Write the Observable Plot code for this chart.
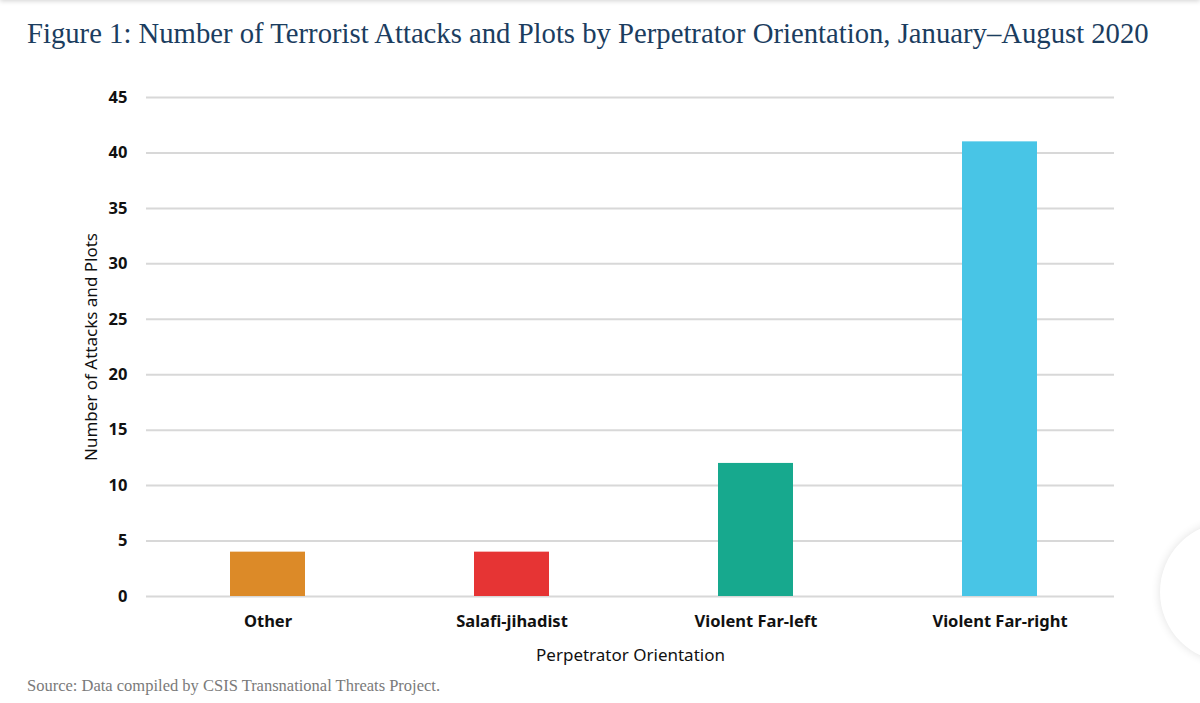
<!DOCTYPE html>
<html>
<head>
<meta charset="utf-8">
<script src="https://cdn.jsdelivr.net/npm/d3@7"></script>
<script src="https://cdn.jsdelivr.net/npm/@observablehq/plot@0.6"></script>
<style>
  html, body { margin: 0; padding: 0; background: #fff; width: 1200px; height: 703px; overflow: hidden; position: relative; }
  #topbar { position: absolute; left: 0; top: -10px; width: 1200px; height: 10px; box-shadow: 0 1px 5px rgba(0,0,0,0.18); }
  #title { position: absolute; left: 27px; top: 17px; font-family: "Liberation Serif", serif; font-size: 28.7px; color: #1b3d60; white-space: nowrap; }
  #chart { position: absolute; left: 0; top: 70px; }
  #source { position: absolute; left: 27px; top: 676px; font-family: "Liberation Serif", serif; font-size: 16.5px; color: #7a7a7a; white-space: nowrap; }
  #bubble { position: absolute; left: 1160px; top: 522px; width: 140px; height: 140px; border-radius: 50%; background: #fff; box-shadow: 0 0 10px rgba(0,0,0,0.12); }
  #chart g[aria-label$="axis label"] { font-weight: normal; font-size: 17px; }
</style>
</head>
<body>
<div id="topbar"></div>
<div id="title">Figure 1: Number of Terrorist Attacks and Plots by Perpetrator Orientation, January–August 2020</div>
<div id="chart"></div>
<div id="source">Source: Data compiled by CSIS Transnational Threats Project.</div>
<div id="bubble"></div>
<script>
const categories = ["Other", "Salafi-jihadist", "Violent Far-left", "Violent Far-right"];
const counts = [4, 4, 12, 41];
const colors = ["#dc8a28", "#e63434", "#17a98e", "#48c5e6"];
const yTicks = [0, 5, 10, 15, 20, 25, 30, 35, 40, 45];

const data = categories.map((c, i) => ({category: c, value: counts[i]}));

const plot = Plot.plot({
  width: 1200,
  height: 600,
  marginTop: 27,
  marginBottom: 74,
  marginLeft: 146,
  marginRight: 86,
  style: {fontFamily: "'Noto Sans', sans-serif", fontSize: "16px", color: "#111", background: "transparent"},
  x: {domain: categories, range: [146, 1120], paddingInner: 0.693, paddingOuter: 0.337, label: null},
  y: {domain: [0, 45], ticks: yTicks, label: null},
  color: {domain: categories, range: colors},
  marks: [
    Plot.gridY(yTicks, {stroke: "#d8d8d8", strokeWidth: 2, strokeOpacity: 1}),
    Plot.barY(data, {x: "category", y: "value", fill: "category"}),
    Plot.axisX({tickSize: 0, tickPadding: 19, fontWeight: "bold", fontSize: 16.5,
      label: "Perpetrator Orientation", labelAnchor: "center", labelArrow: "none", labelOffset: 64}),
    Plot.axisY({ticks: yTicks, tickSize: 0, tickPadding: 19, fontWeight: "bold", fontSize: 16.5,
      label: "Number of Attacks and Plots", labelAnchor: "center", labelArrow: "none", labelOffset: 62})
  ]
});
document.getElementById("chart").appendChild(plot);
</script>
</body>
</html>
